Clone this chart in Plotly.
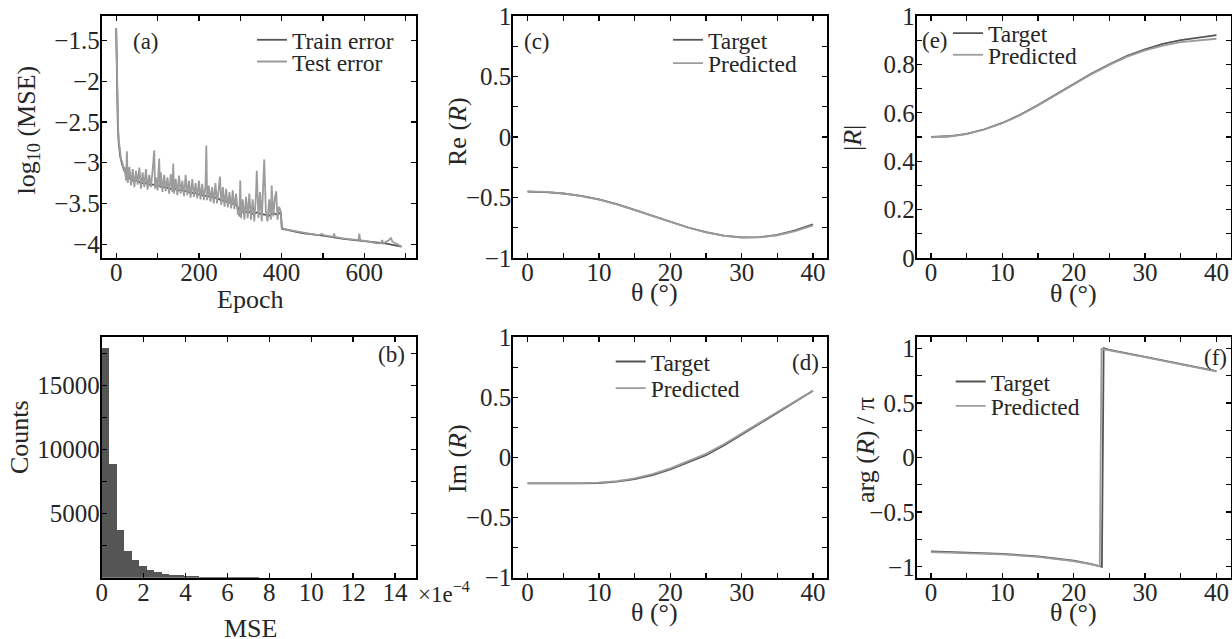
import plotly.graph_objects as go

W, H = 1232, 639
FONT = "Liberation Serif, Times New Roman, serif"
DARK = "#555555"
LIGHT = "#9c9c9c"
TXT = "#262626"

# ---------------- data ----------------
# (a) log10(MSE) vs epoch
test_curve = [
    (0, -1.35), (1, -1.72), (2, -2.05), (3, -2.30), (4, -2.50), (5, -2.62), (6, -2.72),
    (8, -2.82), (10, -2.90), (12, -2.96), (15, -3.00), (18, -3.08), (20, -3.05),
    (24, -3.22), (26, -2.86), (28, -3.25), (32, -3.05), (36, -3.28), (40, -3.08),
    (44, -3.30), (48, -3.10), (52, -3.27), (56, -3.06), (60, -3.32), (64, -3.12),
    (68, -3.30), (72, -3.08), (76, -3.33), (80, -3.15), (84, -3.30), (88, -3.10),
    (92, -2.85), (94, -3.32), (96, -3.18), (100, -3.34), (104, -2.95), (106, -3.30),
    (108, -3.12), (112, -3.36), (116, -3.15), (120, -3.35), (124, -3.18), (128, -3.38),
    (132, -3.14), (136, -3.36), (138, -3.01), (140, -3.38), (144, -3.20), (148, -3.40),
    (152, -3.16), (156, -3.38), (160, -3.22), (164, -3.41), (168, -3.15), (172, -3.40),
    (176, -3.22), (180, -3.43), (184, -3.20), (188, -3.42), (192, -3.25), (196, -3.44),
    (200, -3.22), (204, -3.45), (208, -3.26), (212, -3.46), (216, -3.28), (218, -2.79),
    (220, -3.46), (224, -3.28), (228, -3.48), (232, -3.30), (236, -3.50), (240, -3.25),
    (244, -3.50), (248, -3.32), (251, -3.17), (254, -3.52), (258, -3.30), (262, -3.54),
    (266, -3.32), (270, -3.55), (274, -3.36), (278, -3.56), (282, -3.34), (286, -3.57),
    (290, -3.38), (294, -3.62), (298, -3.66), (300, -3.22), (302, -3.68), (306, -3.45),
    (310, -3.70), (314, -3.42), (318, -3.68), (322, -3.38), (326, -3.70), (330, -3.45),
    (334, -3.72), (338, -3.40), (340, -3.10), (344, -3.68), (348, -3.36), (352, -3.72),
    (356, -3.30), (358, -2.96), (362, -3.60), (366, -3.72), (370, -3.45), (374, -3.70),
    (376, -3.28), (380, -3.66), (384, -3.42), (387, -3.35), (390, -3.70), (394, -3.54),
    (398, -3.60), (400, -3.80),
    (410, -3.82), (420, -3.83), (432, -3.84), (450, -3.86), (470, -3.875), (490, -3.89),
    (495, -3.88), (498, -3.875), (502, -3.89), (510, -3.90), (525, -3.91), (527, -3.87),
    (529, -3.91), (548, -3.93), (560, -3.935), (575, -3.945), (586, -3.95), (588, -3.87),
    (590, -3.95), (610, -3.97), (630, -3.99), (640, -3.99), (643, -3.95), (646, -3.99),
    (655, -3.97), (660, -3.95), (664, -3.92), (668, -3.97), (672, -3.98), (680, -4.00),
    (690, -4.03),
]
train_curve = [
    (0, -1.35), (2, -2.10), (4, -2.55), (6, -2.75), (8, -2.85), (10, -2.93), (15, -3.03),
    (20, -3.10), (30, -3.18), (40, -3.22), (50, -3.22), (60, -3.25), (70, -3.25),
    (80, -3.27), (90, -3.27), (100, -3.28), (110, -3.30), (120, -3.30), (130, -3.32),
    (140, -3.32), (150, -3.34), (160, -3.34), (170, -3.35), (180, -3.37), (190, -3.37),
    (200, -3.39), (210, -3.40), (220, -3.41), (230, -3.42), (240, -3.43), (250, -3.45),
    (260, -3.47), (270, -3.48), (280, -3.50), (290, -3.51), (300, -3.60), (310, -3.61),
    (320, -3.60), (330, -3.63), (340, -3.61), (350, -3.63), (360, -3.64), (370, -3.65),
    (380, -3.62), (390, -3.64), (398, -3.61), (401, -3.81), (450, -3.865), (500, -3.895),
    (550, -3.935), (600, -3.965), (650, -3.99), (690, -4.03),
]
test_epoch = [p[0] for p in test_curve]
test_log_mse = [p[1] for p in test_curve]
train_epoch = [p[0] for p in train_curve]
train_log_mse = [p[1] for p in train_curve]

# (b) histogram of MSE (units of 1e-4)
mse_bin_width = 15 / 42
mse_counts = [17920, 8910, 3720, 2070, 1390, 890, 630, 445, 290, 236, 183, 131, 105, 80,
              65, 55, 45, 35, 28, 22, 18, 15, 12, 10, 8, 7, 6, 5, 4, 4, 3, 3, 2, 2, 2, 2,
              1, 1, 1, 1, 1, 1]
mse_bin_centers = [(i + 0.5) * mse_bin_width for i in range(len(mse_counts))]

# (c)-(e) reflection coefficient vs angle
theta = [0, 2.5, 5, 7.5, 10, 12.5, 15, 17.5, 20, 22.5, 25, 27.5, 30, 32.5, 35, 37.5, 40]
re_target = [-0.452, -0.455, -0.467, -0.487, -0.515, -0.555, -0.603, -0.653, -0.703,
             -0.748, -0.787, -0.815, -0.830, -0.828, -0.808, -0.772, -0.722]
re_pred = [-0.450, -0.454, -0.466, -0.488, -0.517, -0.557, -0.605, -0.655, -0.704,
           -0.749, -0.788, -0.816, -0.831, -0.830, -0.812, -0.778, -0.730]
im_target = [-0.215, -0.216, -0.217, -0.216, -0.212, -0.200, -0.180, -0.147, -0.100,
             -0.043, 0.020, 0.100, 0.190, 0.280, 0.372, 0.463, 0.555]
im_pred = [-0.213, -0.214, -0.215, -0.214, -0.209, -0.196, -0.173, -0.139, -0.090,
           -0.033, 0.030, 0.110, 0.198, 0.287, 0.377, 0.466, 0.557]
abs_target = [0.500, 0.503, 0.513, 0.532, 0.558, 0.592, 0.632, 0.676, 0.720, 0.762,
              0.800, 0.835, 0.862, 0.885, 0.900, 0.912, 0.921]
abs_pred = [0.499, 0.502, 0.512, 0.531, 0.557, 0.590, 0.630, 0.674, 0.718, 0.760,
            0.798, 0.832, 0.858, 0.878, 0.892, 0.900, 0.906]

# (f) phase / pi
arg_theta_target = [0, 5, 10, 15, 20, 22.5, 23.95, 24.2, 25, 30, 35, 40]
arg_target = [-0.860, -0.868, -0.882, -0.905, -0.945, -0.975, -1.0, 1.0, 0.985, 0.920, 0.855, 0.790]
arg_theta_pred = [0, 5, 10, 15, 20, 22.5, 23.65, 23.9, 25, 30, 35, 40]
arg_pred = [-0.866, -0.873, -0.886, -0.909, -0.948, -0.978, -0.995, 0.995, 0.980, 0.918, 0.853, 0.789]

# tick values / labels (major, labelled) and unlabelled minor ticks
a_xticks = [0, 200, 400, 600]
a_xlabels = ["0", "200", "400", "600"]
a_xminor = [100, 300, 500, 700]
a_yticks = [-4, -3.5, -3, -2.5, -2, -1.5]
a_ylabels = ["\u22124", "\u22123.5", "\u22123", "\u22122.5", "\u22122", "\u22121.5"]
b_xticks = [0, 2, 4, 6, 8, 10, 12, 14]
b_xlabels = ["0", "2", "4", "6", "8", "10", "12", "14"]
b_yticks = [5000, 10000, 15000]
b_ylabels = ["5000", "10000", "15000"]
b_yminor = [2500, 7500, 12500, 17500]
th_ticks = [0, 10, 20, 30, 40]
th_labels = ["0", "10", "20", "30", "40"]
th_minor = [5, 15, 25, 35]
pm1_ticks = [-1, -0.5, 0, 0.5, 1]
pm1_labels = ["\u22121", "\u22120.5", "0", "0.5", "1"]
pm1_minor = [-0.75, -0.25, 0.25, 0.75]
e_yticks = [0, 0.2, 0.4, 0.6, 0.8, 1.0]
e_ylabels = ["0", "0.2", "0.4", "0.6", "0.8", "1"]
e_yminor = [0.1, 0.3, 0.5, 0.7, 0.9]

# ---------------- layout helpers ----------------
def dom_x(left, right):
    return [left / W, right / W]


def dom_y(top, bottom):
    return [1 - bottom / H, 1 - top / H]


def axis(domain, anchor, rng, tv, tt, minor_vals=None, standoff=0):
    d = dict(domain=domain, anchor=anchor, range=rng, tickmode="array",
             tickvals=tv, ticktext=tt, showline=True, linecolor="black",
             linewidth=2, mirror="ticks", ticks="inside", ticklen=5,
             tickwidth=1.3, tickcolor="black", showgrid=False, zeroline=False,
             automargin=False, ticklabelstandoff=standoff,
             tickfont=dict(family=FONT, size=25, color=TXT), fixedrange=True)
    if minor_vals:
        d["minor"] = dict(tickmode="array", tickvals=minor_vals, ticks="inside",
                          ticklen=5, tickwidth=1.3, tickcolor="black", showgrid=False)
    return d


XSO = -9   # x tick labels closer to the frame
YSO = -5   # y tick labels closer to the frame

COL1 = dom_x(101.7, 416)
COL2 = dom_x(513.3, 827.3)
COL3 = dom_x(916.7, 1230.7)
ROW1 = dom_y(16, 258)
ROW2 = dom_y(337.3, 577.7)

fig = go.Figure()

line_w = 1.8
fig.add_trace(go.Scatter(x=train_epoch, y=train_log_mse, mode="lines", name="Train error",
                         line=dict(color=DARK, width=line_w), xaxis="x", yaxis="y",
                         legend="legend"))
fig.add_trace(go.Scatter(x=test_epoch, y=test_log_mse, mode="lines", name="Test error",
                         line=dict(color=LIGHT, width=line_w), xaxis="x", yaxis="y",
                         legend="legend2"))
fig.add_trace(go.Bar(x=mse_bin_centers, y=mse_counts, width=mse_bin_width,
                     marker=dict(color=DARK, line=dict(width=0)), showlegend=False,
                     xaxis="x2", yaxis="y2"))
panels = [
    ("x3", "y3", theta, re_target, theta, re_pred, "legend3", "legend4"),
    ("x4", "y4", theta, im_target, theta, im_pred, "legend5", "legend6"),
    ("x5", "y5", theta, abs_target, theta, abs_pred, "legend7", "legend8"),
    ("x6", "y6", arg_theta_target, arg_target, arg_theta_pred, arg_pred, "legend9", "legend10"),
]
for xa, ya, xt, yt, xp, yp, lt, lp in panels:
    fig.add_trace(go.Scatter(x=xt, y=yt, mode="lines", name="Target",
                             line=dict(color=DARK, width=line_w), xaxis=xa, yaxis=ya,
                             legend=lt))
    fig.add_trace(go.Scatter(x=xp, y=yp, mode="lines", name="Predicted",
                             line=dict(color=LIGHT, width=line_w), xaxis=xa, yaxis=ya,
                             legend=lp))

LEG_OFF = 41


def leg(text_left, cy):
    return dict(x=(text_left - LEG_OFF) / W, y=1 - cy / H, xanchor="left", yanchor="middle",
                bgcolor="rgba(0,0,0,0)", borderwidth=0, itemwidth=30,
                font=dict(family=FONT, size=23.5, color=TXT))


def ann(text, cx, cy, size=26, angle=0, xanchor="center"):
    return dict(text=text, x=cx / W, y=1 - cy / H, xref="paper", yref="paper",
                xanchor=xanchor, yanchor="middle", showarrow=False, textangle=angle,
                font=dict(family=FONT, size=size, color=TXT))


annotations = [
    ann("log<sub>10</sub> (MSE)", 27.5, 130, angle=-90),
    ann("Epoch", 249.5, 299.5),
    ann("Counts", 19, 437, angle=-90),
    ann("MSE", 250, 628.5),
    ann("\u00d71e<sup>\u22124</sup>", 416, 592, size=23, xanchor="left"),
    ann("Re (<i>R</i>)", 457, 132, angle=-90),
    ann("\u03b8 (\u00b0)", 654, 292.5),
    ann("Im (<i>R</i>)", 457, 459, angle=-90),
    ann("\u03b8 (\u00b0)", 654, 612),
    ann("|<i>R</i>|", 852, 138, angle=-90),
    ann("\u03b8 (\u00b0)", 1073, 293),
    ann("arg (<i>R</i>) / \u03c0", 866, 450, angle=-90),
    ann("\u03b8 (\u00b0)", 1073, 612.5),
    ann("(a)", 145.5, 41, size=23),
    ann("(b)", 391, 354, size=23),
    ann("(c)", 536.5, 41, size=23),
    ann("(d)", 805, 362, size=23),
    ann("(e)", 934.5, 40, size=23),
    ann("(f)", 1215, 357, size=23),
]

fig.update_layout(
    width=W, height=H, autosize=False,
    margin=dict(l=0, r=0, t=0, b=0, pad=0, autoexpand=False),
    paper_bgcolor="white", plot_bgcolor="white",
    font=dict(family=FONT, color=TXT),
    bargap=0,
    xaxis=axis(COL1, "y", [-35, 725], a_xticks, a_xlabels, a_xminor, XSO),
    yaxis=axis(ROW1, "x", [-4.17, -1.2], a_yticks, a_ylabels, None, YSO),
    xaxis2=axis(COL1, "y2", [0, 15], b_xticks, b_xlabels, None, XSO),
    yaxis2=axis(ROW2, "x2", [0, 18770], b_yticks, b_ylabels, b_yminor, YSO),
    xaxis3=axis(COL2, "y3", [-2, 42], th_ticks, th_labels, th_minor, XSO),
    yaxis3=axis(ROW1, "x3", [-1, 1], pm1_ticks, pm1_labels, pm1_minor, YSO),
    xaxis4=axis(COL2, "y4", [-2, 42], th_ticks, th_labels, th_minor, XSO),
    yaxis4=axis(ROW2, "x4", [-1, 1], pm1_ticks, pm1_labels, pm1_minor, YSO),
    xaxis5=axis(COL3, "y5", [-2, 42], th_ticks, th_labels, th_minor, XSO),
    yaxis5=axis(ROW1, "x5", [0, 1], e_yticks, e_ylabels, e_yminor, YSO),
    xaxis6=axis(COL3, "y6", [-2, 42], th_ticks, th_labels, th_minor, XSO),
    yaxis6=axis(ROW2, "x6", [-1.1, 1.1], pm1_ticks, pm1_labels, pm1_minor, YSO),
    legend=leg(293, 40), legend2=leg(293, 61.7),
    legend3=leg(709, 40), legend4=leg(709, 63.3),
    legend5=leg(651.7, 361.7), legend6=leg(651.7, 388.3),
    legend7=leg(989, 33.3), legend8=leg(989, 55),
    legend9=leg(991.7, 381.7), legend10=leg(991.7, 406),
    annotations=annotations,
)

fig.write_html("out.html", config={"displayModeBar": False, "staticPlot": True},
               post_script="document.body.style.margin='0';document.body.style.padding='0';")
